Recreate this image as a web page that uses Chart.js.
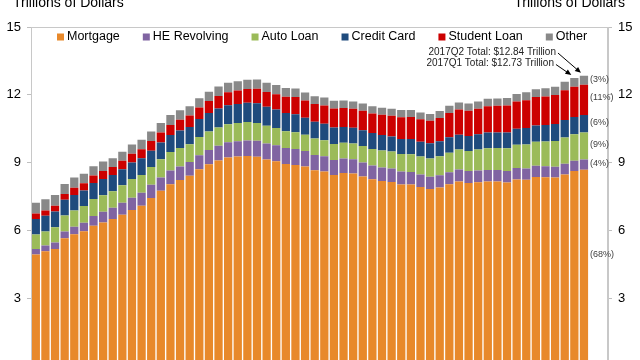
<!DOCTYPE html>
<html>
<head>
<meta charset="utf-8">
<script src="https://cdn.jsdelivr.net/npm/chart.js@4/dist/chart.umd.min.js"></script>
<style>
html,body{margin:0;padding:0;background:#fff;overflow:hidden}
#wrap{width:640px;height:360px;overflow:hidden;position:relative}
canvas{display:block}
</style>
</head>
<body>
<div id="wrap"><canvas id="c" width="640" height="380"></canvas></div>
<script>
const quarters = [
 '03:Q1','03:Q2','03:Q3','03:Q4','04:Q1','04:Q2','04:Q3','04:Q4',
 '05:Q1','05:Q2','05:Q3','05:Q4','06:Q1','06:Q2','06:Q3','06:Q4',
 '07:Q1','07:Q2','07:Q3','07:Q4','08:Q1','08:Q2','08:Q3','08:Q4',
 '09:Q1','09:Q2','09:Q3','09:Q4','10:Q1','10:Q2','10:Q3','10:Q4',
 '11:Q1','11:Q2','11:Q3','11:Q4','12:Q1','12:Q2','12:Q3','12:Q4',
 '13:Q1','13:Q2','13:Q3','13:Q4','14:Q1','14:Q2','14:Q3','14:Q4',
 '15:Q1','15:Q2','15:Q3','15:Q4','16:Q1','16:Q2','16:Q3','16:Q4',
 '17:Q1','17:Q2'
];
// two empty slots at the right of the category axis (room for share labels)
const spareSlots = ['', ''];

const mortgage = [4.94,5.08,5.18,5.66, 5.84,5.97,6.21,6.36, 6.51,6.70,6.91,7.10, 7.44,7.76,8.05,8.23,
 8.42,8.71,8.93,9.10, 9.23,9.27,9.29,9.26, 9.14,9.06,8.94,8.90, 8.83,8.66,8.61,8.45,
 8.54,8.52,8.39,8.27, 8.19,8.15,8.03,8.03, 7.93,7.84,7.90,8.05, 8.17,8.10,8.13,8.17,
 8.17,8.12,8.26,8.25, 8.37,8.36,8.35,8.48, 8.63,8.69];
const heRevolving = [0.24,0.26,0.29,0.30, 0.33,0.37,0.43,0.47, 0.50,0.53,0.54,0.57, 0.58,0.59,0.60,0.60,
 0.61,0.62,0.63,0.65, 0.67,0.68,0.69,0.71, 0.71,0.71,0.71,0.71, 0.69,0.68,0.67,0.67,
 0.64,0.63,0.62,0.61, 0.60,0.59,0.58,0.56, 0.55,0.54,0.54,0.53, 0.53,0.53,0.52,0.51,
 0.51,0.51,0.50,0.49, 0.49,0.48,0.47,0.47, 0.46,0.45];
const autoLoan = [0.64,0.62,0.68,0.70, 0.72,0.74,0.75,0.73, 0.73,0.77,0.83,0.79, 0.79,0.80,0.82,0.82,
 0.79,0.81,0.82,0.81, 0.80,0.81,0.82,0.79, 0.78,0.76,0.74,0.74, 0.71,0.73,0.71,0.71,
 0.70,0.70,0.73,0.73, 0.75,0.75,0.77,0.78, 0.79,0.81,0.84,0.86, 0.88,0.89,0.93,0.96,
 0.97,1.01,1.03,1.06, 1.07,1.10,1.14,1.16, 1.17,1.19];
const creditCard = [0.69,0.69,0.69,0.70, 0.68,0.69,0.71,0.72, 0.71,0.71,0.73,0.74, 0.72,0.74,0.75,0.77,
 0.76,0.79,0.82,0.84, 0.84,0.84,0.85,0.87, 0.84,0.82,0.81,0.79, 0.76,0.74,0.73,0.73,
 0.70,0.69,0.69,0.70, 0.68,0.67,0.67,0.68, 0.66,0.67,0.67,0.68, 0.66,0.66,0.68,0.70,
 0.68,0.70,0.71,0.73, 0.71,0.73,0.75,0.78, 0.76,0.78];
const studentLoan = [0.24,0.24,0.25,0.25, 0.32,0.32,0.33,0.35, 0.36,0.37,0.38,0.39, 0.43,0.44,0.45,0.48,
 0.51,0.51,0.53,0.55, 0.58,0.59,0.61,0.64, 0.66,0.68,0.72,0.76, 0.76,0.78,0.81,0.84,
 0.84,0.85,0.87,0.87, 0.90,0.91,0.96,0.97, 0.99,0.99,1.03,1.08, 1.11,1.12,1.13,1.16,
 1.19,1.19,1.20,1.23, 1.26,1.26,1.28,1.31, 1.34,1.34];
const other = [0.48,0.49,0.48,0.45, 0.45,0.42,0.41,0.42, 0.39,0.40,0.41,0.42, 0.42,0.42,0.44,0.42,
 0.41,0.41,0.41,0.42, 0.41,0.41,0.41,0.41, 0.41,0.41,0.38,0.38, 0.35,0.35,0.35,0.34,
 0.33,0.32,0.32,0.32, 0.31,0.31,0.32,0.31, 0.30,0.30,0.30,0.32, 0.31,0.32,0.32,0.33,
 0.32,0.33,0.34,0.35, 0.35,0.36,0.37,0.38, 0.38,0.39];

const seriesNames = ['Mortgage','HE Revolving','Auto Loan','Credit Card','Student Loan','Other'];
const seriesColors = ['#E8892B','#8064A2','#9BBB59','#1F4B7D','#CC0000','#898989'];
const shareLabels = ['(68%)','(4%)','(9%)','(6%)','(11%)','(3%)'];
const yTicks = [0,3,6,9,12,15];
const axisTitle = 'Trillions of Dollars';
const totalNotes = ['2017Q2 Total: $12.84 Trillion','2017Q1 Total: $12.73 Trillion'];

const seriesData = [mortgage, heRevolving, autoLoan, creditCard, studentLoan, other];

const FONT = '"Liberation Sans", Arial, sans-serif';
const NARROW = '"Liberation Sans Narrow", "Arial Narrow", "Liberation Sans", sans-serif';

function arrow(ctx, x1, y1, x2, y2){
  const a = Math.atan2(y2-y1, x2-x1), L = 6, W = 2.6;
  ctx.beginPath(); ctx.moveTo(x1,y1); ctx.lineTo(x2 - Math.cos(a)*L*0.8, y2 - Math.sin(a)*L*0.8); ctx.stroke();
  ctx.beginPath();
  ctx.moveTo(x2,y2);
  ctx.lineTo(x2 - Math.cos(a)*L + Math.sin(a)*W, y2 - Math.sin(a)*L - Math.cos(a)*W);
  ctx.lineTo(x2 - Math.cos(a)*L - Math.sin(a)*W, y2 - Math.sin(a)*L + Math.cos(a)*W);
  ctx.closePath(); ctx.fill();
}

const decor = {
  id: 'decor',
  afterDraw(chart){
    const ctx = chart.ctx, ca = chart.chartArea;
    ctx.save();
    // plot frame
    ctx.strokeStyle = '#C8C8C8'; ctx.lineWidth = 1;
    ctx.strokeRect(Math.round(ca.left)+0.5, Math.round(ca.top)+0.5, Math.round(ca.right-ca.left)-1, Math.round(ca.bottom-ca.top)+5);
    // axis titles (partly cut at the top)
    ctx.fillStyle = '#000';
    ctx.font = '14px ' + FONT; ctx.textBaseline = 'alphabetic';
    ctx.textAlign = 'left'; ctx.fillText(axisTitle, 13, 6.5);
    ctx.textAlign = 'right'; ctx.fillText(axisTitle, 625, 6.5);
    // legend
    ctx.font = '12.5px ' + FONT; ctx.textBaseline = 'middle'; ctx.textAlign = 'left';
    let x = ca.left + 26; const ly = 37;
    chart.data.datasets.forEach(ds => {
      ctx.fillStyle = ds.backgroundColor; ctx.fillRect(x, ly-3.5, 7, 7);
      ctx.fillStyle = '#000'; ctx.fillText(ds.label, x + 10, ly);
      x += 10 + ctx.measureText(ds.label).width + 23;
    });
    // share labels next to the last bar
    const n = quarters.length - 1;
    ctx.font = '9px ' + NARROW; ctx.fillStyle = '#404040'; ctx.textAlign = 'left';
    chart.data.datasets.forEach((ds, i) => {
      const el = chart.getDatasetMeta(i).data[n];
      const yy = el.base - 0.565 * (el.base - el.y);
      ctx.fillText(shareLabels[i], el.x + el.width/2 + 2, yy);
    });
    // total notes with arrows
    const top2 = chart.getDatasetMeta(5).data[n];
    const top1 = chart.getDatasetMeta(5).data[n-1];
    ctx.font = '10px ' + NARROW; ctx.fillStyle = '#222'; ctx.textAlign = 'right';
    const tx = top2.x - 28;
    ctx.fillText(totalNotes[0], tx, 52);
    ctx.fillText(totalNotes[1], tx - 2, 63.5);
    ctx.strokeStyle = '#000'; ctx.fillStyle = '#000'; ctx.lineWidth = 1;
    arrow(ctx, tx + 2, 53, top2.x - 3, top2.y - 3);
    arrow(ctx, tx, 64.5, top1.x - 3, top1.y - 3);
    ctx.restore();
  }
};

const axisCommon = {
  min: 0, max: 15,
  afterBuildTicks(s){ s.ticks = yTicks.map(v => ({value: v})); },
  ticks: { color: '#000', font: { family: FONT, size: 13 }, padding: 6 },
  grid: { drawOnChartArea: false, drawTicks: true, tickLength: 4, color: '#BFBFBF' },
  border: { display: true, color: '#C8C8C8' }
};

new Chart(document.getElementById('c'), {
  type: 'bar',
  data: {
    labels: quarters.concat(spareSlots),
    datasets: seriesData.map((d, i) => ({
      label: seriesNames[i], data: d, backgroundColor: seriesColors[i],
      borderWidth: 0, barPercentage: 0.86, categoryPercentage: 1.0, yAxisID: 'y'
    }))
  },
  options: {
    responsive: false, animation: false, devicePixelRatio: 1,
    layout: { padding: { top: 27, bottom: 7, left: 0, right: 0 } },
    plugins: { legend: { display: false }, tooltip: { enabled: false } },
    scales: {
      x: { stacked: true, display: false },
      y: Object.assign({}, axisCommon, { position: 'left', stacked: true,
           afterFit(s){ s.width = 31; } }),
      y2: Object.assign({}, axisCommon, { position: 'right',
           afterFit(s){ s.width = 32; } })
    }
  },
  plugins: [decor]
});
</script>
</body>
</html>
